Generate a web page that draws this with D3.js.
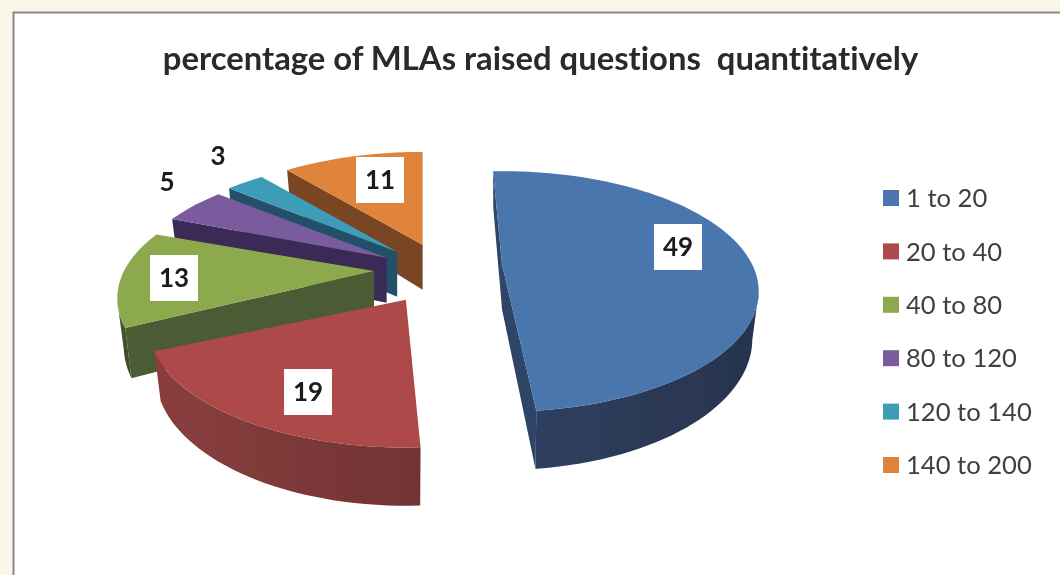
<!DOCTYPE html>
<html>
<head>
<meta charset="utf-8">
<script src="https://cdn.jsdelivr.net/npm/d3@7"></script>
<style>
  html, body { margin: 0; padding: 0; background: #fbf6ea; overflow: hidden; }
  text { white-space: pre; font-variant-ligatures: none; }
</style>
</head>
<body>
<script>
// chart data
const categories = ["1 to 20", "20 to 40", "40 to 80", "80 to 120", "120 to 140", "140 to 200"];
const percents = [49, 19, 13, 5, 3, 11];
const topColors = ["#4a76ac", "#ad4a48", "#8caa4e", "#7a5c9e", "#3c9db8", "#e0843a"];
const wallColors = ["#2f3f5f", "#8a3e3e", "#4f5f36", "#43305f", "#23586b", "#8a4c22"];
const faceColors = ["#2d4468", "#7f3a3c", "#4c5c34", "#3a2a55", "#20506a", "#7a4420"];
const titleText = "percentage of MLAs raised questions  quantitatively";

// layout
const canvWidth = 1060, canvHeight = 575;
const pieCenter = {x: 443, y: 273};
const explode = {x: 69, y: 30};
const radius = 250, squash = 114, persp = 0.228, depth = 45;
const bottomShrink = 0.975; // the underside of the pie is a bit narrower
// painter's order, back to front
const drawOrder = [5, 4, 3, 2, 0, 1];
// slices do not line up perfectly in the original, small corrections per slice
const tilt = [-2.5, 1, -1.5, 0, 0, 0];
const nudgeX = [-10, -2, 0, 3, 3, 3];
const nudgeY = [-8, 1, -3, 0, 0, 0];
const labelPos = [[678, 247], [308, 392], [174, 278], [167, 182], [218, 156], [380, 180]];
const boxed = [true, true, true, false, false, true];

const svg = d3.select("body").append("svg")
    .attr("width", canvWidth)
    .attr("height", canvHeight)
    .style("display", "block");

const defs = svg.append("defs");
const soft = defs.append("filter")
    .attr("id", "soft")
    .attr("x", "-5%").attr("y", "-5%").attr("width", "110%").attr("height", "110%");
soft.append("feGaussianBlur").attr("stdDeviation", 0.75);

const g = svg.append("g").attr("filter", "url(#soft)");

// chart panel
g.append("rect")
    .attr("x", 13.5)
    .attr("y", 12.5)
    .attr("width", canvWidth)
    .attr("height", canvHeight)
    .attr("fill", "#ffffff")
    .attr("stroke", "#8a8a85")
    .attr("stroke-width", 2);

g.append("text")
    .attr("x", 540.5)
    .attr("y", 70)
    .attr("text-anchor", "middle")
    .attr("font-family", "Lato")
    .attr("font-weight", 700)
    .attr("font-size", 32.8)
    .attr("fill", "#2b2b2b")
    .text(titleText);

const pie = d3.pie().sort(null).startAngle(0).endAngle(2 * Math.PI);
const arcs = pie(percents);

// unit ground coords -> screen, nearer parts get bigger
function project(cx, cy, u, v, z) {
    const k = 1 / (1 - persp * v);
    return [cx + radius * u * k * (z ? bottomShrink : 1), cy + squash * v * k + (z ? depth * k : 0)];
}

const line = d3.line();

drawOrder.forEach(i => {
    const a = arcs[i].startAngle + tilt[i] * Math.PI / 180;
    const b = arcs[i].endAngle + tilt[i] * Math.PI / 180;
    const mid = (arcs[i].startAngle + arcs[i].endAngle) / 2;
    const cx = pieCenter.x + explode.x * Math.sin(mid) + nudgeX[i];
    const cy = pieCenter.y - explode.y * Math.cos(mid) + nudgeY[i];
    const rim = (t, z) => project(cx, cy, Math.sin(t), -Math.cos(t), z);
    const apex = z => project(cx, cy, 0, 0, z);

    const slice = g.append("g").attr("class", "slice");

    // radial cut faces, only when they face the viewer
    [[a, rim(a, 0)[0] < apex(0)[0]], [b, apex(0)[0] < rim(b, 0)[0]]].forEach(([t, show]) => {
        if (!show) return;
        slice.append("path")
            .attr("d", line([apex(0), rim(t, 0), rim(t, 1), apex(1)]) + "Z")
            .attr("fill", faceColors[i]);
    });

    const steps = d3.range(a, b, Math.PI / 90).concat([b]);

    // outer wall, only the stretch of rim that runs right to left on screen
    const front = steps.filter(t => Math.abs(t) > Math.PI / 2 - 0.2 && Math.abs(t) < 3 * Math.PI / 2 + 0.2
        && project(0, 0, Math.sin(t + 0.01), -Math.cos(t + 0.01), 0)[0] < project(0, 0, Math.sin(t), -Math.cos(t), 0)[0]);
    if (front.length > 1) {
        const xs = d3.extent(front, t => rim(t, 0)[0]);
        const gradId = "wall" + i;
        const grad = defs.append("linearGradient")
            .attr("id", gradId)
            .attr("gradientUnits", "userSpaceOnUse")
            .attr("x1", xs[0]).attr("x2", xs[1]).attr("y1", 0).attr("y2", 0);
        grad.append("stop").attr("offset", 0).attr("stop-color", wallColors[i]);
        grad.append("stop").attr("offset", 1).attr("stop-color", d3.color(wallColors[i]).darker(0.55).formatHex());
        slice.append("path")
            .attr("d", line(front.map(t => rim(t, 0)).concat(front.slice().reverse().map(t => rim(t, 1)))) + "Z")
            .attr("fill", "url(#" + gradId + ")");
    }

    // top surface
    slice.append("path")
        .attr("d", line([apex(0)].concat(steps.map(t => rim(t, 0)))) + "Z")
        .attr("fill", topColors[i]);
});

// data labels
const labels = g.selectAll(".label")
    .data(percents)
    .join("g")
    .attr("class", "label")
    .attr("transform", (d, i) => "translate(" + labelPos[i][0] + "," + labelPos[i][1] + ")");

labels.filter((d, i) => boxed[i]).append("rect")
    .attr("x", -24)
    .attr("y", -23)
    .attr("width", 48)
    .attr("height", 46)
    .attr("fill", "#ffffff");

labels.append("text")
    .attr("text-anchor", "middle")
    .attr("dy", "0.36em")
    .attr("font-family", "Lato")
    .attr("font-weight", 700)
    .attr("font-size", 26)
    .attr("fill", "#1f1f1f")
    .text(d => d);

// legend
const legendY = d3.scalePoint().domain(categories).range([198, 465]);
const legend = g.selectAll(".legend")
    .data(categories)
    .join("g")
    .attr("class", "legend")
    .attr("transform", d => "translate(883," + legendY(d) + ")");

legend.append("rect")
    .attr("y", -8)
    .attr("width", 16)
    .attr("height", 16)
    .attr("fill", (d, i) => topColors[i]);

legend.append("text")
    .attr("x", 23)
    .attr("dy", "0.36em")
    .attr("font-family", "Lato")
    .attr("font-size", 25.6)
    .attr("fill", "#404040")
    .text(d => d);
</script>
</body>
</html>
